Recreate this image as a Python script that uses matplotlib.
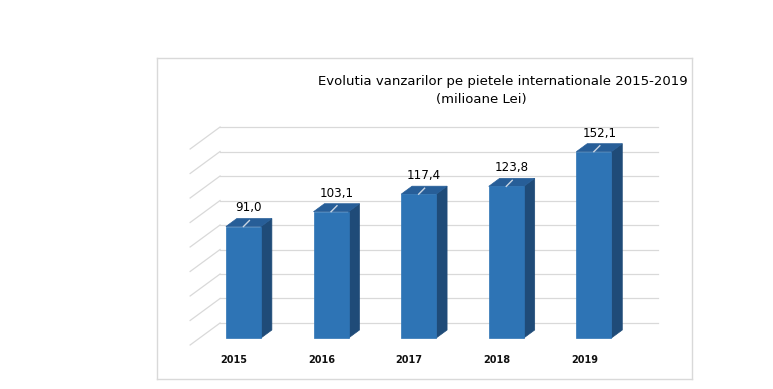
import numpy as np
import matplotlib.pyplot as plt
from matplotlib.patches import Polygon

# =====================================================
# Data
# =====================================================
years = ["2015", "2016", "2017", "2018", "2019"]
sales = [91.0, 103.1, 117.4, 123.8, 152.1]
grid_values = [0, 20, 40, 60, 80, 100, 120, 140, 160]

title_line1 = "Evolutia vanzarilor pe pietele internationale 2015-2019"
title_line2 = "(milioane Lei)"

# =====================================================
# Style / fake 3D geometry
# =====================================================
FRONT = "#2E74B5"
SIDE = "#1F4B78"
TOP = "#275E98"
GRID = "#D9D9D9"

depth_dx = 0.342     # category units for full floor depth
depth_dy = 17.96     # value units for full floor depth
bar_w = 0.40
bar_d0, bar_d1 = 0.318, 0.682   # bar front/back as fraction of depth


def proj(x, v, d):
    return (x + depth_dx * d, v + depth_dy * d)


fig = plt.figure(figsize=(7.73, 3.89), dpi=100)
ax = fig.add_axes([157 / 773, 10 / 389, 535 / 773, 321 / 389])
ax.set_xlim(-0.878, 5.229)
ax.set_ylim(-27.76, 234.3)
ax.set_xticks([])
ax.set_yticks([])
for s in ax.spines.values():
    s.set_color(GRID)
    s.set_linewidth(1.0)

n = len(years)
x0, x1 = -0.5, n - 0.5

# back wall gridlines + left wall diagonals
for g in grid_values:
    bx0, by = proj(x0, g, 1)
    bx1, _ = proj(x1, g, 1)
    ax.plot([bx0, bx1], [by, by], color=GRID, lw=0.9, zorder=1)
    fx, fy = proj(x0, g, 0)
    ax.plot([fx, bx0], [fy, by], color=GRID, lw=0.9, zorder=1)

# bars
for i, v in enumerate(sales):
    xl, xr = i - bar_w / 2, i + bar_w / 2
    fl = proj(xl, 0, bar_d0)
    fr = proj(xr, 0, bar_d0)
    ftl = proj(xl, v, bar_d0)
    ftr = proj(xr, v, bar_d0)
    br = proj(xr, 0, bar_d1)
    btr = proj(xr, v, bar_d1)
    btl = proj(xl, v, bar_d1)
    ax.add_patch(Polygon([fr, br, btr, ftr], closed=True, fc=SIDE, ec=SIDE, lw=0.5, zorder=3))
    ax.add_patch(Polygon([ftl, ftr, btr, btl], closed=True, fc=TOP, ec=TOP, lw=0.5, zorder=3))
    ax.add_patch(Polygon([fl, fr, ftr, ftl], closed=True, fc=FRONT, ec=FRONT, lw=0.5, zorder=4))

    # leader line and value label
    lx, ly = proj(i, v, bar_d0)
    ax.plot([lx, lx + 0.068], [ly, ly + 4.9], color="#C9D5E3", lw=1.0, zorder=5)
    cx, cy = proj(i, v, 0.5)
    ax.annotate(f"{v:.1f}".replace(".", ","), (cx, cy), xytext=(0, 10.5),
                textcoords="offset points", ha="center", va="center",
                fontsize=8.6, color="black", zorder=6)

    # category label
    ax.annotate(years[i], (i, 0), xytext=(0, -11),
                textcoords="offset points", ha="center", va="center",
                fontsize=7, fontweight="bold", color="#111111")

# title
fig.text(503 / 773, 1 - 81.7 / 389, title_line1, ha="center", va="center",
         fontsize=9.5, color="black")
fig.text(481 / 773, 1 - 99 / 389, title_line2, ha="center", va="center",
         fontsize=9.5, color="black")

fig.savefig("out.png", dpi=100)
